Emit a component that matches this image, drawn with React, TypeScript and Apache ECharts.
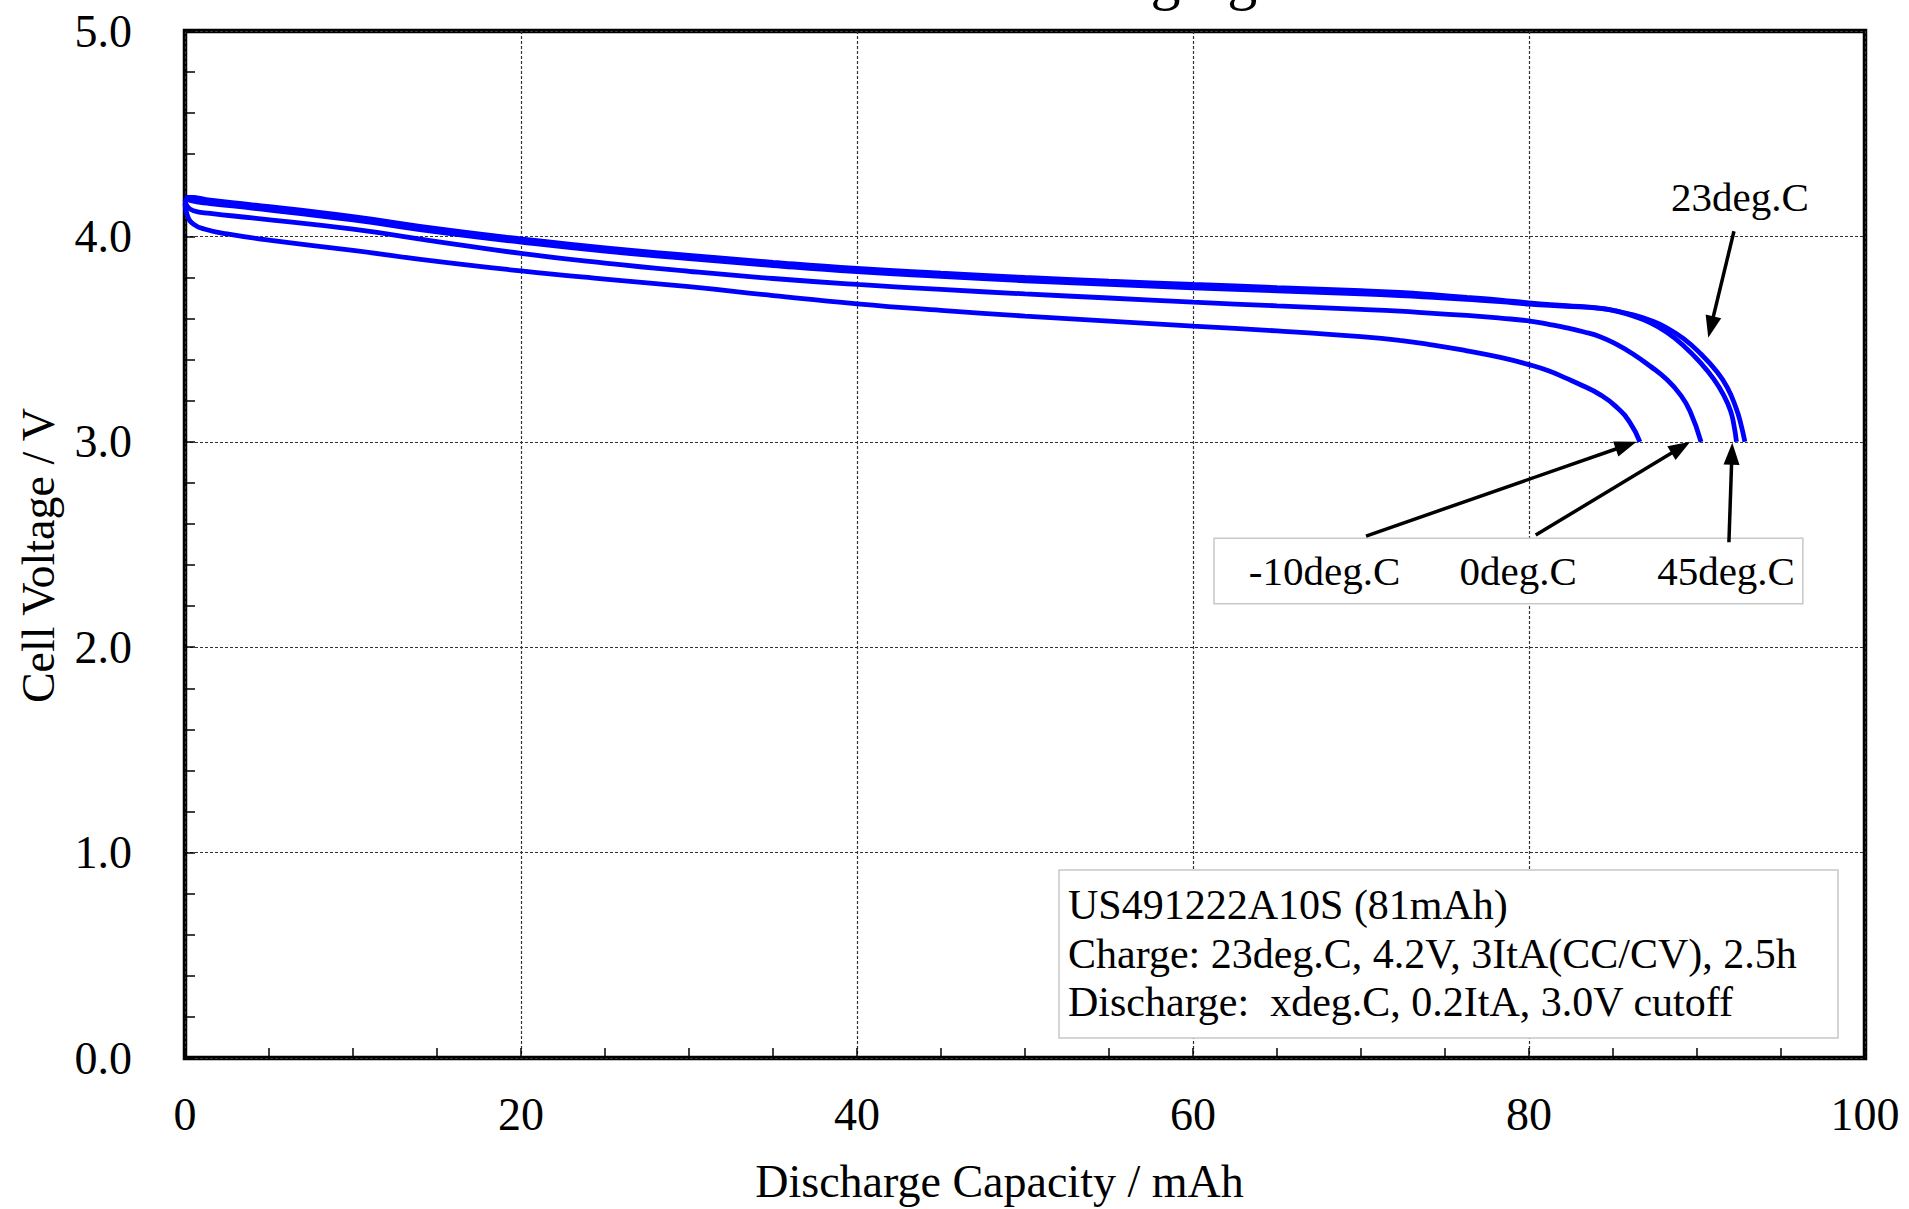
import React, { useEffect, useRef } from "react";
import * as echarts from "echarts";

const FONT = "'Liberation Serif', 'Times New Roman', Times, serif";

// ---- data: discharge capacity (mAh) vs cell voltage (V) ----
const capM10 = [0, 0.15, 0.5, 1.2, 2.5, 5, 10, 15, 20, 25, 30, 35, 40, 45, 50, 55, 60, 65, 70, 72.3, 74.3, 76.3, 78.3, 80, 81.2, 82.2, 83.2, 84.2, 85.2, 86.0, 86.6];
const voltM10 = [4.16, 4.1, 4.06, 4.035, 4.012, 3.982, 3.932, 3.878, 3.832, 3.792, 3.755, 3.712, 3.672, 3.64, 3.612, 3.588, 3.563, 3.54, 3.512, 3.494, 3.471, 3.443, 3.411, 3.376, 3.345, 3.31, 3.273, 3.231, 3.17, 3.095, 3.0];

const cap0 = [0, 0.15, 0.5, 1.5, 4, 10, 15, 20, 25, 30, 35, 40, 45, 50, 55, 60, 65, 70, 72.3, 74.3, 76.3, 78.3, 80.06, 81.25, 82.24, 83.23, 84.23, 85.22, 86.21, 87.2, 88.19, 88.99, 89.58, 90.24];
const volt0 = [4.18, 4.145, 4.125, 4.112, 4.09, 4.035, 3.975, 3.917, 3.87, 3.83, 3.795, 3.766, 3.742, 3.72, 3.7, 3.68, 3.662, 3.645, 3.636, 3.625, 3.615, 3.602, 3.588, 3.571, 3.555, 3.536, 3.512, 3.474, 3.426, 3.369, 3.304, 3.231, 3.15, 3.0];

const cap23 = [0, 0.3, 1.5, 4, 10, 15, 20, 25, 30, 35, 40, 45, 50, 55, 60, 65, 70, 72.3, 74.3, 76.3, 78.3, 80, 82.2, 84.2, 85.2, 86.2, 87.2, 88.2, 89.2, 90.2, 91.2, 91.8, 92.3, 92.6, 92.85];
const volt23 = [4.19, 4.175, 4.16, 4.138, 4.08, 4.022, 3.972, 3.928, 3.892, 3.858, 3.828, 3.805, 3.784, 3.766, 3.75, 3.735, 3.72, 3.712, 3.703, 3.693, 3.682, 3.67, 3.66, 3.65, 3.637, 3.618, 3.592, 3.555, 3.502, 3.43, 3.34, 3.265, 3.17, 3.09, 3.0];

const cap45 = [0, 0.3, 1.5, 4, 10, 15, 20, 25, 30, 35, 40, 45, 50, 55, 60, 65, 70, 72.3, 74.3, 76.3, 78.3, 80, 82.2, 84.2, 85.2, 86.2, 87.2, 88.2, 89.2, 90.2, 91.0, 91.6, 92.0, 92.2, 92.35];
const volt45 = [4.19, 4.19, 4.176, 4.154, 4.096, 4.038, 3.988, 3.944, 3.908, 3.874, 3.844, 3.821, 3.8, 3.782, 3.766, 3.751, 3.736, 3.727, 3.716, 3.703, 3.69, 3.676, 3.663, 3.651, 3.636, 3.612, 3.58, 3.533, 3.468, 3.385, 3.305, 3.225, 3.15, 3.08, 3.0];

const seriesNames = ["-10deg.C", "0deg.C", "23deg.C", "45deg.C"];
const seriesCaps = [capM10, cap0, cap23, cap45];
const seriesVolts = [voltM10, volt0, volt23, volt45];

// axes
const xMin = 0, xMax = 100, xInterval = 20;
const yMin = 0, yMax = 5, yInterval = 1;

// annotations (data coordinates)
const arrowTails = [[70.3, 2.541], [80.4, 2.546], [91.9, 2.511], [92.2, 4.025]];
const arrowTips = [[86.4, 3.0], [89.6, 3.0], [92.1, 2.995], [90.67, 3.507]];
const annLabels = ["-10deg.C", "0deg.C", "45deg.C", "23deg.C"];
const annLabelPos = [[67.83, 2.37], [79.35, 2.37], [91.73, 2.37], [92.55, 4.193]];
const annBoxCorners = [[61.25, 2.530], [96.3, 2.211]];

const infoLines = [
  "US491222A10S (81mAh)",
  "Charge: 23deg.C, 4.2V, 3ItA(CC/CV), 2.5h",
  "Discharge:  xdeg.C, 0.2ItA, 3.0V cutoff",
];
const titleText = "Discharging Characteristics";

export default function App() {
  const ref = useRef<HTMLDivElement>(null);

  useEffect(() => {
    if (!ref.current) return;
    const chart = echarts.init(ref.current, null, { renderer: "svg" });

    const series = seriesNames.map((name, i) => ({
      name,
      type: "line",
      data: seriesCaps[i].map((c, j) => [c, seriesVolts[i][j]]),
      showSymbol: false,
      smooth: 0.5,
      lineStyle: { color: "#0000ff", width: 4.8 },
      z: 5,
    }));

    chart.setOption({
      animation: false,
      backgroundColor: "#ffffff",
      textStyle: { fontFamily: FONT },
      grid: {
        left: 185,
        top: 31,
        right: 44,
        bottom: 149,
        show: true,
        borderColor: "#000",
        borderWidth: 4.5,
        backgroundColor: "transparent",
      },
      xAxis: {
        type: "value",
        min: xMin,
        max: xMax,
        interval: xInterval,
        name: "Discharge Capacity / mAh",
        nameLocation: "middle",
        nameGap: 100,
        nameTextStyle: { fontSize: 46, fontFamily: FONT, color: "#000", padding: [0, 51, 0, 0] },
        axisLine: { show: false },
        axisTick: { show: true, inside: true, length: 10, lineStyle: { color: "#000", width: 1.5 } },
        minorTick: { show: true, splitNumber: 4, length: 10, lineStyle: { color: "#000", width: 1.5 } },
        axisLabel: { fontSize: 46, fontFamily: FONT, color: "#000", margin: 33 },
        splitLine: { show: true, lineStyle: { color: "#333", width: 1.2, type: [3, 2] } },
      },
      yAxis: {
        type: "value",
        min: yMin,
        max: yMax,
        interval: yInterval,
        name: "Cell Voltage / V",
        nameLocation: "middle",
        nameGap: 124,
        nameTextStyle: { fontSize: 46, fontFamily: FONT, color: "#000", padding: [0, 22, 0, 0] },
        axisLine: { show: false },
        axisTick: { show: true, inside: true, length: 10, lineStyle: { color: "#000", width: 1.5 } },
        minorTick: { show: true, splitNumber: 5, length: 10, lineStyle: { color: "#000", width: 1.5 } },
        axisLabel: {
          fontSize: 46,
          fontFamily: FONT,
          color: "#000",
          margin: 53,
          formatter: (v: number) => v.toFixed(1),
        },
        splitLine: { show: true, lineStyle: { color: "#333", width: 1.2, type: [3, 2] } },
      },
      series,
    });

    const px = (p: number[]) => chart.convertToPixel({ gridIndex: 0 }, p) as number[];

    const graphics: any[] = [];

    // title: the reference shows only the bottom of it at the top edge
    graphics.push({
      type: "text",
      x: 965,
      y: 8,
      z: 20,
      style: { text: titleText, fontSize: 60, fontFamily: FONT, fill: "#000", align: "left", verticalAlign: "bottom" },
    });

    // arrows
    arrowTails.forEach((t, i) => {
      const a = px(t);
      const b = px(arrowTips[i]);
      const dx = b[0] - a[0];
      const dy = b[1] - a[1];
      const len = Math.sqrt(dx * dx + dy * dy);
      const ux = dx / len, uy = dy / len;
      const nx = -uy, ny = ux;
      const L = 22, W = 8;
      const bx = b[0] - ux * L, by = b[1] - uy * L;
      graphics.push({
        type: "line",
        z: 30,
        shape: { x1: a[0], y1: a[1], x2: bx + ux * 4, y2: by + uy * 4 },
        style: { stroke: "#000", lineWidth: 3.5 },
      });
      graphics.push({
        type: "polygon",
        z: 30,
        shape: { points: [[b[0], b[1]], [bx + nx * W, by + ny * W], [bx - nx * W, by - ny * W]] },
        style: { fill: "#000" },
      });
    });

    // annotation label box
    const c1 = px(annBoxCorners[0]);
    const c2 = px(annBoxCorners[1]);
    graphics.push({
      type: "rect",
      z: 25,
      shape: { x: c1[0], y: c1[1], width: c2[0] - c1[0], height: c2[1] - c1[1] },
      style: { fill: "#fff", stroke: "#c8c8c8", lineWidth: 1.5 },
    });
    annLabels.forEach((t, i) => {
      const p = px(annLabelPos[i]);
      graphics.push({
        type: "text",
        z: 31,
        x: p[0],
        y: p[1],
        style: { text: t, fontSize: 41, fontFamily: FONT, fill: "#000", align: "center", verticalAlign: "middle" },
      });
    });

    // info box
    graphics.push({
      type: "rect",
      z: 25,
      shape: { x: 1059, y: 870, width: 779, height: 168 },
      style: { fill: "#fff", stroke: "#c8c8c8", lineWidth: 1.5 },
    });
    infoLines.forEach((t, i) => {
      graphics.push({
        type: "text",
        z: 31,
        x: 1068,
        y: 905 + i * 48.7,
        style: { text: t, fontSize: 42, fontFamily: FONT, fill: "#000", align: "left", verticalAlign: "middle" },
      });
    });

    chart.setOption({ graphic: graphics });

    return () => chart.dispose();
  }, []);

  return (
    <div
      ref={ref}
      style={{ position: "absolute", left: 0, top: 0, width: 1909, height: 1209, background: "#fff" }}
    />
  );
}
